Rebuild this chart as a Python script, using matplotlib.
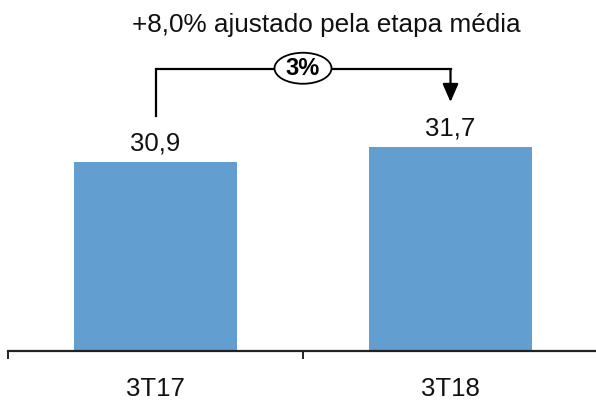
import matplotlib
matplotlib.use("Agg")
import matplotlib.pyplot as plt
from matplotlib.patches import Ellipse

# data
periods = ["3T17", "3T18"]
volumes = [30.9, 31.7]
value_labels = ["30,9", "31,7"]
growth_label = "3%"
title_text = "+8,0% ajustado pela etapa média"

plt.rcParams["font.family"] = ["Liberation Sans", "DejaVu Sans"]

W, H = 596, 400
fig = plt.figure(figsize=(W / 100, H / 100), dpi=100)
ax = fig.add_axes([8 / W, 49 / H, 590 / W, 351 / H])

x = list(range(len(periods)))
bar_color = "#629fd0"
ax.bar(x, volumes, width=0.55, color=bar_color, zorder=2)

ax.set_xlim(-0.5, len(periods) - 0.5)
ax.set_ylim(20.82, 39.54)

# value labels above bars
for xi, v, lab in zip(x, volumes, value_labels):
    ax.annotate(lab, (xi, v), xytext=(0, 8), textcoords="offset points",
                ha="center", va="baseline", fontsize=18.5, color="#111111")

# spines / ticks
for s in ["top", "right", "left"]:
    ax.spines[s].set_visible(False)
ax.spines["bottom"].set_linewidth(1.6)
ax.spines["bottom"].set_color("#222222")
ax.set_yticks([])
ax.set_xticks([-0.5, 0.5, 1.5])
ax.set_xticklabels([])
ax.tick_params(axis="x", which="major", direction="out", length=6,
               width=1.4, color="#222222")
ax.set_xticks(x, minor=True)
ax.set_xticklabels(periods, minor=True, fontsize=18.5, color="#111111")
ax.tick_params(axis="x", which="minor", length=0, pad=19)

# growth bracket
top_y = max(volumes) + 4.15
start_y = volumes[0] + 2.45
tip_y = volumes[1] + 2.4
ax.plot([x[0], x[0], x[1]], [start_y, top_y, top_y], color="black",
        lw=1.6, solid_joinstyle="miter", zorder=3)
ax.annotate("", xy=(x[1], tip_y), xytext=(x[1], top_y),
            arrowprops=dict(arrowstyle="-|>,head_length=1.1,head_width=0.48",
                            mutation_scale=10, color="black", lw=1.6,
                            shrinkA=0, shrinkB=0), zorder=3)

mid = (x[0] + x[1]) / 2
ax.add_patch(Ellipse((mid, top_y + 0.05), width=57 / 295, height=31 / 18.75,
                     facecolor="white", edgecolor="black", lw=1.3, zorder=4))
ax.text(mid, top_y + 0.05, growth_label, ha="center", va="center",
        fontsize=17, fontweight="bold", zorder=5)

fig.text(326 / W, 1 - 32 / H, title_text, ha="center", va="baseline",
         fontsize=18.8, color="#111111")

fig.savefig("out.png", dpi=100)
